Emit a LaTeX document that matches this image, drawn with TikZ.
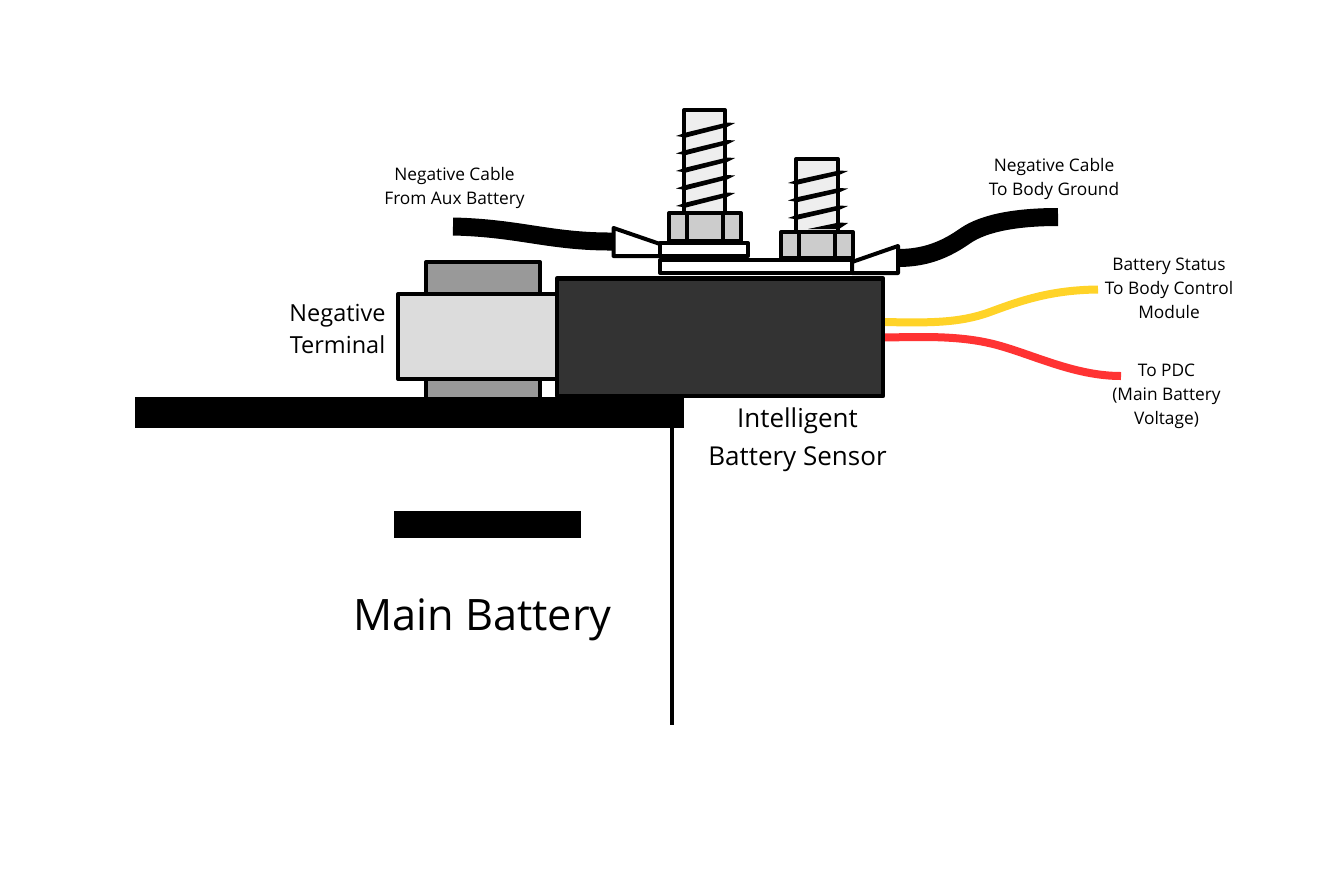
\documentclass[tikz,border=0pt]{standalone}
\usepackage{fontspec}
\setmainfont{Open Sans}
\tikzset{
 part/.style={draw=black,line width=4pt,line join=round},
 thread/.style={fill=black,draw=none},
 small/.style={align=center,font=\fontsize{17.3}{24}\selectfont,inner sep=0pt},
 midn/.style={align=center,font=\fontsize{23.5}{32}\selectfont,inner sep=0pt},
 midi/.style={align=center,font=\fontsize{26}{38}\selectfont,inner sep=0pt},
 big/.style={align=center,font=\fontsize{43.3}{50}\selectfont,inner sep=0pt},
 cable/.style={line width=18pt,black},
 wire/.style={line width=8pt},
}
\definecolor{bolt}{HTML}{EEEEEE}
\definecolor{nutc}{HTML}{CCCCCC}
\definecolor{backc}{HTML}{999999}
\definecolor{frontc}{HTML}{DCDCDC}
\definecolor{boxc}{HTML}{333333}
\definecolor{yel}{HTML}{FFD328}
\definecolor{redw}{HTML}{FF3333}
\begin{document}
\begin{tikzpicture}[x=1pt,y=-1pt]
\useasboundingbox (0,0) rectangle (1333,868);
% cables
\draw[cable] (453,226.5) .. controls (520,228) and (550,242) .. (614,241.5);
\draw[cable] (898,258) .. controls (925,258) and (945,250) .. (965,236) .. controls (985,222) and (1020,217) .. (1058,217);
% wires
\draw[wire,yel] (884,322) .. controls (930,323) and (960,323) .. (990,312) .. controls (1020,301) and (1050,290) .. (1098,289.5);
\draw[wire,redw] (884,337.5) .. controls (920,337) and (960,335) .. (997,345) .. controls (1034,355) and (1075,376) .. (1121,376);
% battery
\fill[black] (135,397) rectangle (684,428);
\draw[line width=3.5pt] (672,428) -- (672,725);
\fill[black] (394,511) rectangle (581,538);
% terminal
\draw[part,fill=backc] (426,262) rectangle (540,399);
\draw[part,fill=frontc] (398,294) rectangle (557,379);
% sensor
\draw[part,line width=4.5pt,fill=boxc] (557,278.5) rectangle (883,396);
% big bolt
\draw[part,fill=bolt] (684,110) rectangle (725,214);
\foreach \d in {0,17.5,35,52.5,70}{
 \fill[thread] (676,136+\d) -- (686,132.5+\d) -- (727,122.5+\d) -- (735,123+\d) -- (727,127+\d) -- (686,137.5+\d) -- cycle;
}
% small bolt
\draw[part,fill=bolt] (796,159) rectangle (838,232);
\foreach \d in {0,17.5,35}{
 \fill[thread] (788,183+\d) -- (798,179.5+\d) -- (839,170.5+\d) -- (848,171+\d) -- (839,175+\d) -- (798,184.5+\d) -- cycle;
}
\fill[thread] (808,229) -- (839,222.5) -- (848,223) -- (839,229) -- cycle;
% lugs
\draw[part,fill=white] (613.5,228) -- (660,244) -- (660,256) -- (613.5,256) -- cycle;
\draw[part,fill=white] (852,262) -- (898,246) -- (898,273) -- (852,273) -- cycle;
% washers
\draw[part,fill=white] (660,260) rectangle (852,273);
\draw[part,fill=white] (660,243) rectangle (748,256);
% nuts
\draw[part,fill=nutc] (669,213) rectangle (741,241);
\draw[line width=4pt] (687,213) -- (687,241) (723,213) -- (723,241);
\draw[part,fill=nutc] (781,232) rectangle (853,258);
\draw[line width=4pt] (799,232) -- (799,258) (835,232) -- (835,258);
% labels
\node[small] (aux) at (454.5,188) {Negative Cable\\From Aux Battery};
\node[small] (gnd) at (1054,179) {Negative Cable\\To Body Ground};
\node[small] (bcm) at (1169,288.5) {Battery Status\\To Body Control\\Module};
\node[small] (pdc) at (1166.5,396) {To PDC\\(Main Battery\\Voltage)};
\node[midn] (neg) at (337.5,329) {Negative\\Terminal};
\node[midi] (ibs) at (797.5,440) {Intelligent\\Battery Sensor};
\node[big] (main) at (482.5,620) {Main Battery};
\end{tikzpicture}
\end{document}
